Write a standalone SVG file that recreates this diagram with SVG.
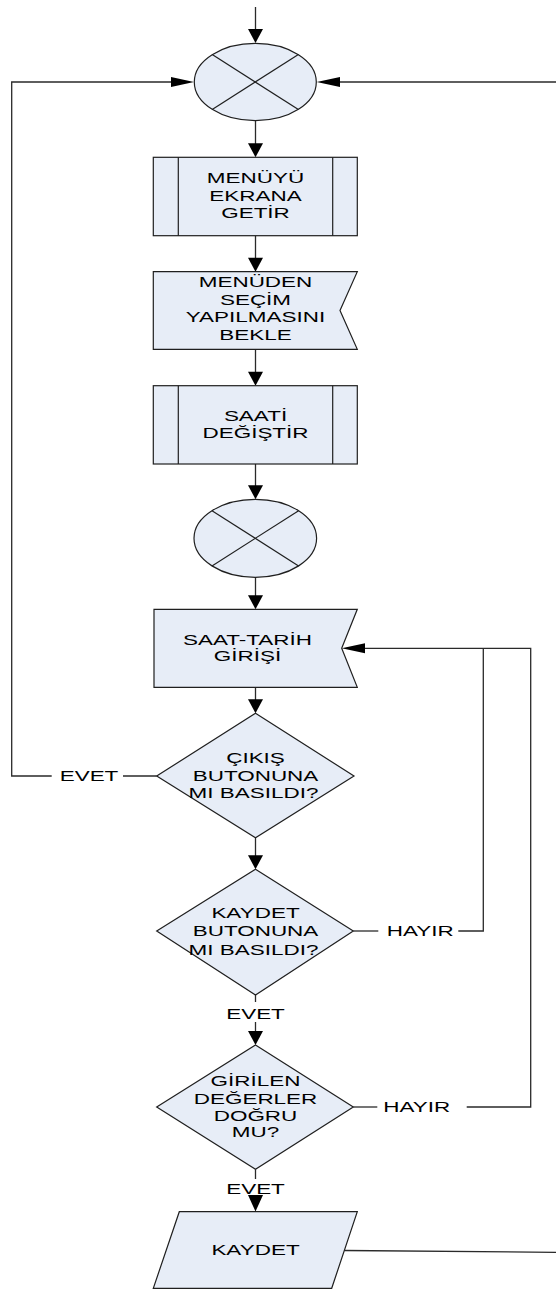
<svg xmlns="http://www.w3.org/2000/svg" width="556" height="1290" viewBox="0 0 556 1290">
  <style>
    .shape { fill: #E7EDF7; stroke: #1f1f1f; stroke-width: 1.2; }
    .inner { fill: none; stroke: #1f1f1f; stroke-width: 1.2; }
    .wire { fill: none; stroke: #2a2a2a; stroke-width: 1.3; }
    .head { fill: #000; stroke: none; }
    .lbl { font-family: "Liberation Sans", Arial, sans-serif; font-size: 14.5px; fill: #000; text-anchor: middle; }
    .lbl.start { text-anchor: start; }
  </style>
  <rect width="556" height="1290" fill="#fff"/>

  <!-- connectors -->
  <g id="connectors">
    <!-- entry -->
    <line class="wire" x1="255.5" y1="7" x2="255.5" y2="30"/>
    <polygon class="head" points="248,29 263,29 255.5,43"/>
    <!-- exit loop back to top connector (left) -->
    <polyline class="wire" points="51.7,776 11.7,776 11.7,82 172,82"/>
    <polygon class="head" points="171,77 171,87 194,82"/>
    <line class="wire" x1="123" y1="776" x2="156.7" y2="776"/>
    <!-- return from save (right) -->
    <line class="wire" x1="339" y1="82" x2="556" y2="82"/>
    <polygon class="head" points="340,77 340,87 316.7,82"/>
    <!-- main flow -->
    <line class="wire" x1="255.5" y1="120.7" x2="255.5" y2="144"/>
    <polygon class="head" points="248,143.3 263,143.3 255.5,157.3"/>
    <line class="wire" x1="255.5" y1="235.7" x2="255.5" y2="258.5"/>
    <polygon class="head" points="248,257.7 263,257.7 255.5,271.7"/>
    <line class="wire" x1="255.5" y1="349.3" x2="255.5" y2="372.5"/>
    <polygon class="head" points="248,371.7 263,371.7 255.5,385.7"/>
    <line class="wire" x1="255.5" y1="463.7" x2="255.5" y2="486"/>
    <polygon class="head" points="248,485.3 263,485.3 255.5,499.3"/>
    <line class="wire" x1="255.5" y1="577.3" x2="255.5" y2="596"/>
    <polygon class="head" points="248,595.3 263,595.3 255.5,609.3"/>
    <line class="wire" x1="255.5" y1="687.3" x2="255.5" y2="700"/>
    <polygon class="head" points="248,699.3 263,699.3 255.5,713.3"/>
    <line class="wire" x1="255.5" y1="837.7" x2="255.5" y2="856"/>
    <polygon class="head" points="248,855.3 263,855.3 255.5,869.3"/>
    <line class="wire" x1="255.5" y1="995" x2="255.5" y2="1002"/>
    <line class="wire" x1="255.5" y1="1022" x2="255.5" y2="1032"/>
    <polygon class="head" points="248,1031 263,1031 255.5,1045"/>
    <line class="wire" x1="255.5" y1="1169.3" x2="255.5" y2="1179"/>
    <polygon class="head" points="248,1195 263,1195 255.5,1211.5"/>
    <!-- HAYIR loops back to date/time input -->
    <line class="wire" x1="353.3" y1="931" x2="378.3" y2="931"/>
    <polyline class="wire" points="458.3,931 483.3,931 483.3,648.3"/>
    <line class="wire" x1="353.3" y1="1107" x2="377.3" y2="1107"/>
    <polyline class="wire" points="466.7,1107 530.7,1107 530.7,648.3 364,648.3"/>
    <polygon class="head" points="365,643.3 365,653.3 341.7,648.3"/>
    <!-- save output -->
    <line class="wire" x1="344.5" y1="1250.5" x2="556" y2="1252.3"/>
  </g>

  <!-- nodes -->
  <g id="merge-top">
    <ellipse class="shape" cx="255.3" cy="82" rx="61" ry="38.7"/>
    <line class="inner" x1="212.2" y1="54.6" x2="298.4" y2="109.4"/>
    <line class="inner" x1="298.4" y1="54.6" x2="212.2" y2="109.4"/>
  </g>

  <g id="menu-show">
    <rect class="shape" x="153.3" y="157.3" width="204" height="78.4"/>
    <line class="inner" x1="178.3" y1="157.3" x2="178.3" y2="235.7"/>
    <line class="inner" x1="332.7" y1="157.3" x2="332.7" y2="235.7"/>
    <text class="lbl" transform="translate(255.5,183.3) scale(1.55,1)">MENÜYÜ</text>
    <text class="lbl" transform="translate(255.5,200.8) scale(1.55,1)">EKRANA</text>
    <text class="lbl" transform="translate(255.5,217.5) scale(1.55,1)">GETİR</text>
  </g>

  <g id="menu-wait">
    <polygon class="shape" points="153.3,271.7 357.3,271.7 340,310.5 357.3,349.3 153.3,349.3"/>
    <text class="lbl" transform="translate(255.5,287.3) scale(1.55,1)">MENÜDEN</text>
    <text class="lbl" transform="translate(255.5,304.8) scale(1.55,1)">SEÇİM</text>
    <text class="lbl" transform="translate(255.5,322.4) scale(1.55,1)">YAPILMASINI</text>
    <text class="lbl" transform="translate(255.5,340) scale(1.55,1)">BEKLE</text>
  </g>

  <g id="clock-change">
    <rect class="shape" x="153.3" y="385.7" width="204" height="78.3"/>
    <line class="inner" x1="178.3" y1="385.7" x2="178.3" y2="464"/>
    <line class="inner" x1="332.7" y1="385.7" x2="332.7" y2="464"/>
    <text class="lbl" transform="translate(255.5,421) scale(1.55,1)">SAATİ</text>
    <text class="lbl" transform="translate(255.5,438.3) scale(1.55,1)">DEĞİŞTİR</text>
  </g>

  <g id="merge-mid">
    <ellipse class="shape" cx="255.3" cy="538.3" rx="61.3" ry="39"/>
    <line class="inner" x1="212" y1="510.7" x2="298.6" y2="565.9"/>
    <line class="inner" x1="298.6" y1="510.7" x2="212" y2="565.9"/>
  </g>

  <g id="datetime-input">
    <polygon class="shape" points="154,609.3 357.3,609.3 341.7,648.3 357.3,687.3 154,687.3"/>
    <text class="lbl" transform="translate(247.5,645) scale(1.55,1)">SAAT-TARİH</text>
    <text class="lbl" transform="translate(247.5,660.5) scale(1.55,1)">GİRİŞİ</text>
  </g>

  <g id="exit-check">
    <polygon class="shape" points="255.5,713.3 354,776 255.5,837.7 156.7,776"/>
    <text class="lbl" transform="translate(255.5,763.3) scale(1.55,1)">ÇIKIŞ</text>
    <text class="lbl" transform="translate(255.5,781) scale(1.55,1)">BUTONUNA</text>
    <text class="lbl" transform="translate(253.5,797.7) scale(1.55,1)">MI BASILDI?</text>
    <text class="lbl" transform="translate(89,780.5) scale(1.55,1)">EVET</text>
  </g>

  <g id="save-check">
    <polygon class="shape" points="255.5,869.3 353.3,931 255.5,995 156.7,931"/>
    <text class="lbl" transform="translate(255.5,918.3) scale(1.55,1)">KAYDET</text>
    <text class="lbl" transform="translate(255.5,936) scale(1.55,1)">BUTONUNA</text>
    <text class="lbl" transform="translate(253.5,955) scale(1.55,1)">MI BASILDI?</text>
    <text class="lbl start" transform="translate(386.7,936) scale(1.55,1)">HAYIR</text>
    <text class="lbl" transform="translate(255.5,1019.3) scale(1.55,1)">EVET</text>
  </g>

  <g id="value-check">
    <polygon class="shape" points="255.5,1045 353.3,1107 255.5,1169.3 156.7,1107"/>
    <text class="lbl" transform="translate(255.5,1086) scale(1.55,1)">GİRİLEN</text>
    <text class="lbl" transform="translate(255.5,1104.3) scale(1.55,1)">DEĞERLER</text>
    <text class="lbl" transform="translate(255.5,1120.5) scale(1.55,1)">DOĞRU</text>
    <text class="lbl" transform="translate(255.5,1136.7) scale(1.55,1)">MU?</text>
    <text class="lbl start" transform="translate(383.3,1111.7) scale(1.55,1)">HAYIR</text>
    <text class="lbl" transform="translate(255.5,1194) scale(1.55,1)">EVET</text>
  </g>

  <g id="save">
    <polygon class="shape" points="179.3,1211.7 357.3,1211.7 331.7,1288.3 153.3,1288.3"/>
    <text class="lbl" transform="translate(255.5,1254.5) scale(1.55,1)">KAYDET</text>
  </g>
</svg>
